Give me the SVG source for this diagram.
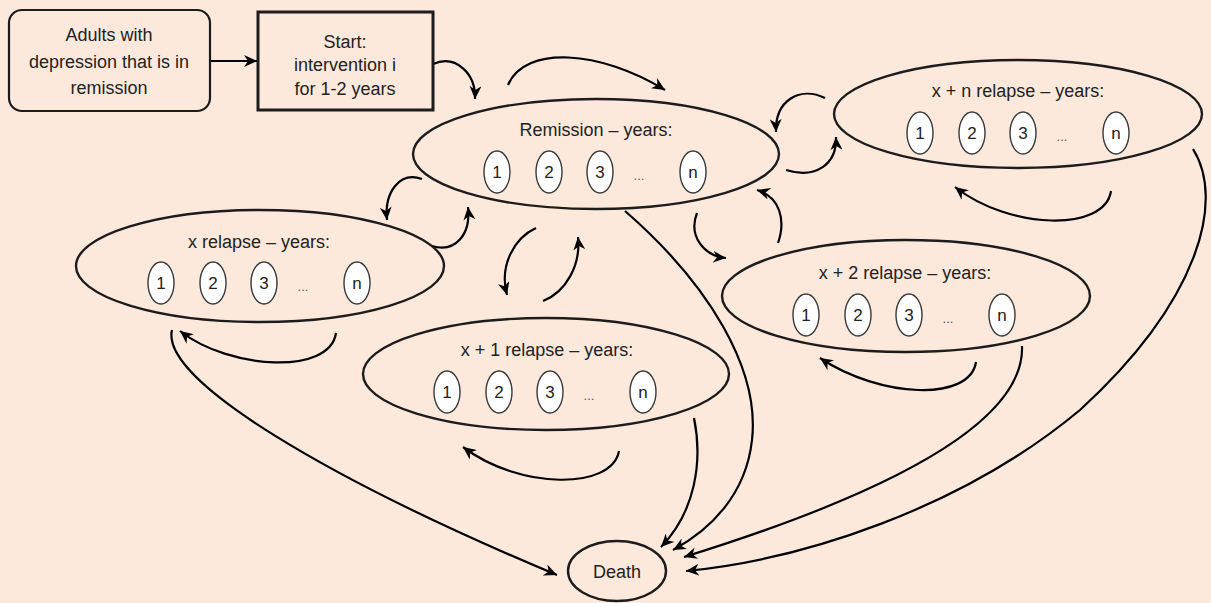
<svg xmlns="http://www.w3.org/2000/svg" width="1211" height="603" viewBox="0 0 1211 603">
  <style>
    .bg { fill: #fce9db; }
    .box { fill: #fce9db; stroke: #1c1c1c; stroke-width: 2.2; }
    .state { fill: #fce9db; stroke: #1c1c1c; stroke-width: 2.4; }
    .yr { fill: #ffffff; stroke: #3a3a3a; stroke-width: 1.4; }
    .t { font-family: "Liberation Sans", Arial, sans-serif; font-size: 18px; fill: #222; text-anchor: middle; }
    .n { font-family: "Liberation Sans", Arial, sans-serif; font-size: 17px; fill: #222; text-anchor: middle; }
    .dots { font-family: "Liberation Sans", Arial, sans-serif; font-size: 13px; fill: #555; text-anchor: middle; }
    .edge { fill: none; stroke: #000; stroke-width: 2.2; marker-end: url(#head); }
  </style>
  <defs>
    <marker id="head" markerUnits="userSpaceOnUse" markerWidth="14" markerHeight="12" refX="13" refY="6" orient="auto">
      <path d="M0,0 L13,6 L0,12 L4,6 z" fill="#000"/>
    </marker>
    <!-- one year-of-state bubble row: 1, 2, 3, ..., n -->
    <g id="years">
      <ellipse class="yr" cx="0" cy="0" rx="13" ry="21"/>
      <text class="n" x="0" y="6">1</text>
      <ellipse class="yr" cx="52" cy="0" rx="13" ry="21"/>
      <text class="n" x="52" y="6">2</text>
      <ellipse class="yr" cx="103" cy="0" rx="13" ry="21"/>
      <text class="n" x="103" y="6">3</text>
      <text class="dots" x="142" y="8">...</text>
      <ellipse class="yr" cx="196" cy="0" rx="13" ry="21"/>
      <text class="n" x="196" y="6">n</text>
    </g>
  </defs>

  <rect class="bg" x="0" y="0" width="1211" height="603"/>

  <g id="connectors">
    <path class="edge" d="M210,61 L257,61"/>
    <path class="edge" d="M433,64 C456,54 476,74 475,99"/>
    <path class="edge" d="M508,85 C525,45 600,50 665,90"/>
    <!-- remission <-> x relapse -->
    <path class="edge" d="M422,179 C400,171 384,192 387,220"/>
    <path class="edge" d="M432,246 C456,253 471,234 468,207"/>
    <!-- remission <-> x+1 relapse -->
    <path class="edge" d="M536,228 C514,238 499,266 507,295"/>
    <path class="edge" d="M543,301 C566,292 581,265 578,237"/>
    <!-- remission <-> x+2 relapse -->
    <path class="edge" d="M697,213 C688,236 704,256 726,258"/>
    <path class="edge" d="M778,243 C786,220 780,197 757,190"/>
    <!-- remission <-> x+n relapse -->
    <path class="edge" d="M825,98 C800,86 775,100 776,132"/>
    <path class="edge" d="M786,170 C815,179 837,165 836,137"/>
    <!-- staying in the same state -->
    <path class="edge" d="M336,333 C330,375 230,370 180,331"/>
    <path class="edge" d="M619,451 C612,490 520,490 463,447"/>
    <path class="edge" d="M976,362 C970,402 880,398 820,358"/>
    <path class="edge" d="M1111,191 C1105,232 1010,230 955,187"/>
    <!-- to death -->
    <path class="edge" d="M172,330 C160,380 330,480 557,575"/>
    <path class="edge" d="M694,418 C703,462 695,512 661,547"/>
    <path class="edge" d="M625,211 C710,285 760,370 752,440 C746,495 710,530 673,550"/>
    <path class="edge" d="M1022,346 C1025,420 900,490 684,557"/>
    <path class="edge" d="M1193,149 C1225,200 1200,300 1080,410 C960,510 800,560 686,571"/>
  </g>

  <g id="population">
    <rect class="box" x="9" y="10" width="201" height="101" rx="13"/>
    <text class="t" x="109" y="41">Adults with</text>
    <text class="t" x="109" y="68">depression that is in</text>
    <text class="t" x="109" y="94">remission</text>
  </g>

  <g id="start">
    <rect class="box" x="258" y="12" width="175" height="98" style="stroke-width:3"/>
    <text class="t" x="345" y="48">Start:</text>
    <text class="t" x="345" y="71">intervention i</text>
    <text class="t" x="345" y="95">for 1-2 years</text>
  </g>

  <g id="remission">
    <ellipse class="state" cx="596" cy="154" rx="183" ry="55"/>
    <text class="t" x="596" y="136">Remission – years:</text>
    <use href="#years" x="497" y="172"/>
  </g>

  <g id="relapse-xn">
    <ellipse class="state" cx="1018" cy="114" rx="184" ry="54"/>
    <text class="t" x="1018" y="97">x + n relapse – years:</text>
    <use href="#years" x="920" y="133"/>
  </g>

  <g id="relapse-x">
    <ellipse class="state" cx="260" cy="266" rx="184" ry="56"/>
    <text class="t" x="259" y="248">x relapse – years:</text>
    <use href="#years" x="161" y="283"/>
  </g>

  <g id="relapse-x2">
    <ellipse class="state" cx="906" cy="296" rx="184" ry="56"/>
    <text class="t" x="905" y="279">x + 2 relapse – years:</text>
    <use href="#years" x="806" y="315"/>
  </g>

  <g id="relapse-x1">
    <ellipse class="state" cx="546" cy="374" rx="183" ry="56"/>
    <text class="t" x="547" y="356">x + 1 relapse – years:</text>
    <use href="#years" x="447" y="392"/>
  </g>

  <g id="death">
    <ellipse class="state" cx="617" cy="571" rx="49" ry="30"/>
    <text class="t" x="617" y="578">Death</text>
  </g>
</svg>
